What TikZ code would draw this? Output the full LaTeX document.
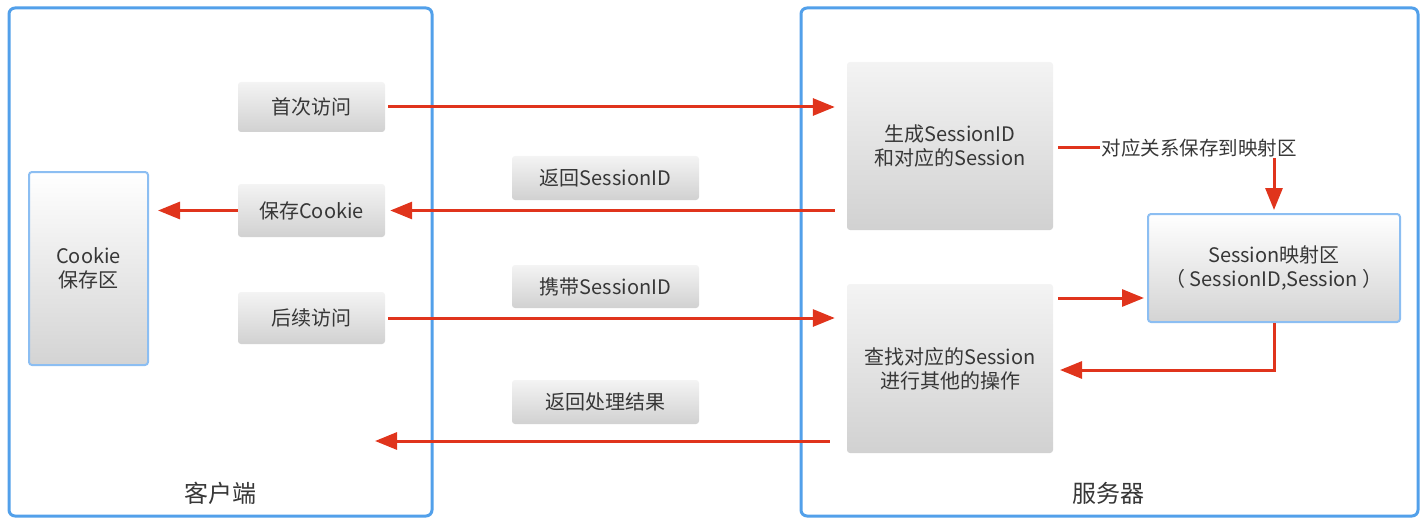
\documentclass[tikz,border=0pt]{standalone}
\usepackage{fontspec}
\setmainfont{Noto Sans CJK SC}
\usetikzlibrary{arrows.meta}
\definecolor{framblue}{RGB}{82,160,234}
\definecolor{boxblue}{RGB}{140,190,242}
\definecolor{arrred}{RGB}{224,52,28}
\definecolor{txtgray}{RGB}{55,55,55}
\tikzset{
  frame/.style={draw=framblue, line width=3pt, rounded corners=6pt},
  greybox/.style={top color=gray!9, bottom color=gray!36, rounded corners=3pt,
    text=txtgray, font=\fontsize{20}{24}\selectfont, align=center, inner sep=0pt},
  bluebox/.style={greybox, top color=white, bottom color=gray!34, draw=boxblue, line width=2pt},
  flow/.style={draw=arrred, line width=3pt, -{Triangle[length=22pt,width=17pt]}},
  plain/.style={draw=arrred, line width=3pt},
  frametitle/.style={text=txtgray, font=\fontsize{24}{28}\selectfont}
}
\begin{document}
\begin{tikzpicture}[x=1pt,y=-1pt]
\useasboundingbox (0,0) rectangle (1427,524);
% client and server
\node[frame, minimum width=423pt, minimum height=508pt] (client) at (220.5,262) {};
\node[frame, minimum width=617pt, minimum height=508pt] (server) at (1109.5,262) {};
\node[frametitle] (clientname) at (220,493) {客户端};
\node[frametitle] (servername) at (1108,493) {服务器};
% client side
\node[bluebox, minimum width=119pt, minimum height=193pt] (cookie) at (88.5,268.5) {Cookie\\保存区};
\node[greybox, minimum width=147pt, minimum height=50pt] (first) at (311.5,107) {首次访问};
\node[greybox, minimum width=147pt, minimum height=53pt] (save) at (311.5,210.5) {保存Cookie};
\node[greybox, minimum width=147pt, minimum height=52pt] (later) at (311.5,318) {后续访问};
% messages
\node[greybox, minimum width=187pt, minimum height=44pt] (retid) at (605.5,178) {返回SessionID};
\node[greybox, minimum width=187pt, minimum height=43pt] (carry) at (605.5,286.5) {携带SessionID};
\node[greybox, minimum width=187pt, minimum height=44pt] (retres) at (605.5,402) {返回处理结果};
% server side
\node[greybox, minimum width=206pt, minimum height=168pt] (gen) at (950,146) {生成SessionID\\和对应的Session};
\node[greybox, minimum width=206pt, minimum height=169pt] (find) at (950,368.5) {查找对应的Session\\进行其他的操作};
\node[bluebox, minimum width=252pt, minimum height=108pt] (map) at (1274,268) {Session映射区\\（ SessionID,Session ）};
\node[text=txtgray, font=\fontsize{19.5}{22}\selectfont, inner sep=1pt] (relation) at (1199,148) {对应关系保存到映射区};
\coordinate (back) at (375,441);
\coordinate (lookup) at (1053,298);
\coordinate (reply) at (1053,370);
% connectors
\draw[flow, shorten <=3pt, shorten >=12pt] (first.east) -- (gen.west |- first.east);
\draw[flow, shorten <=12pt, shorten >=5pt] (gen.west |- save.east) -- (save.east);
\draw[flow, shorten >=9pt] (save.west) -- (cookie.east |- save.west);
\draw[flow, shorten <=3pt, shorten >=12pt] (later.east) -- (find.west |- later.east);
\draw[flow, shorten <=17pt] (find.west |- back) -- (back);
\draw[plain, shorten <=5pt] (gen.east |- relation.west) -- (relation.west);
\draw[flow, shorten >=3pt] (map.north |- relation.south) -- (map.north);
\draw[flow, shorten <=5pt, shorten >=3pt] (find.east |- lookup) -- (map.west |- lookup);
\draw[flow, shorten >=7pt] (map.south) |- (reply);
\end{tikzpicture}
\end{document}
